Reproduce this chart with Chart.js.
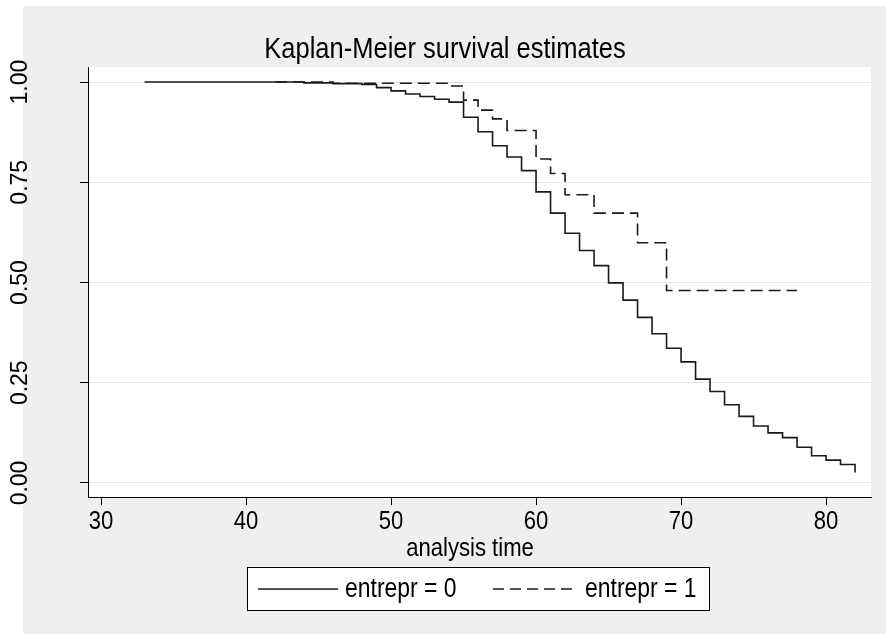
<!DOCTYPE html>
<html>
<head>
<meta charset="utf-8">
<title>Kaplan-Meier survival estimates</title>
<script src="https://cdn.jsdelivr.net/npm/chart.js@4/dist/chart.umd.min.js"></script>
<style>
  html, body { margin: 0; padding: 0; background: #fff; }
  canvas { display: block; }
</style>
</head>
<body>
<canvas id="km" width="886" height="634"></canvas>
<script>
// survival steps, group entrepr = 0
const timesEntrepr0 = [33, 44, 46, 48, 49, 50, 51, 52, 53, 54, 55, 56, 57, 58, 59, 60, 61, 62, 63, 64, 65, 66, 67, 68, 69, 70, 71, 72, 73, 74, 75, 76, 77, 78, 79, 80, 81, 82];
const survEntrepr0 = [1.000, 0.998, 0.996, 0.994, 0.986, 0.978, 0.970, 0.964, 0.957, 0.950, 0.912, 0.876, 0.841, 0.813, 0.779, 0.726, 0.673, 0.623, 0.580, 0.542, 0.499, 0.456, 0.413, 0.372, 0.336, 0.302, 0.259, 0.228, 0.195, 0.166, 0.142, 0.125, 0.113, 0.089, 0.068, 0.057, 0.046, 0.026];

// survival steps, group entrepr = 1
const timesEntrepr1 = [42, 46, 54, 55, 56, 57, 58, 60, 61, 62, 64, 67, 69, 78];
const survEntrepr1 = [1.000, 0.997, 0.990, 0.955, 0.930, 0.908, 0.879, 0.808, 0.772, 0.719, 0.673, 0.599, 0.480, 0.480];

const xTicks = [30, 40, 50, 60, 70, 80];
const yTicks = [0, 0.25, 0.5, 0.75, 1];
const yTickLabels = ['0.00', '0.25', '0.50', '0.75', '1.00'];

const seriesLabels = ['entrepr = 0', 'entrepr = 1'];
const chartTitle = 'Kaplan-Meier survival estimates';
const xTitle = 'analysis time';

const FONT = "'Liberation Sans', Arial, sans-serif";
const LINE = '#1a1a1a';
const SQUEEZE = 0.85; // condensed look of the graph text

const toPoints = (xs, ys) => xs.map((x, i) => ({ x, y: ys[i] }));

// horizontally condensed text
function narrowText(ctx, text, x, y, size, align) {
  ctx.save();
  ctx.font = size + 'px ' + FONT;
  ctx.textAlign = align || 'center';
  ctx.translate(x, y);
  ctx.scale(SQUEEZE, 1);
  ctx.fillText(text, 0, 0);
  ctx.restore();
}

// grey graph region, white plot region, texts and the legend box
const stataFrame = {
  id: 'stataFrame',
  beforeDraw(chart) {
    const { ctx, chartArea: a } = chart;
    ctx.save();
    ctx.fillStyle = '#efefef';
    ctx.fillRect(23, 6, chart.width - 23, chart.height - 6);
    ctx.fillStyle = '#ffffff';
    ctx.fillRect(a.left, a.top, a.right - a.left, a.bottom - a.top);
    ctx.restore();
  },
  afterDraw(chart) {
    const { ctx } = chart;
    const x = chart.scales.x;
    const y = chart.scales.y;
    ctx.save();
    ctx.fillStyle = '#000';
    ctx.textBaseline = 'alphabetic';
    narrowText(ctx, chartTitle, 445, 58, 30);
    narrowText(ctx, xTitle, 470, 556, 26);

    ctx.textBaseline = 'middle';
    xTicks.forEach(v => narrowText(ctx, String(v), x.getPixelForValue(v), 522, 26));

    ctx.font = '23px ' + FONT;
    ctx.textAlign = 'center';
    yTicks.forEach((v, i) => {
      ctx.save();
      ctx.translate(21, y.getPixelForValue(v));
      ctx.rotate(-Math.PI / 2);
      ctx.fillText(yTickLabels[i], 0, 0);
      ctx.restore();
    });

    // legend
    ctx.fillStyle = '#fff';
    ctx.fillRect(247, 567, 462, 43);
    ctx.strokeStyle = '#000';
    ctx.lineWidth = 1;
    ctx.strokeRect(247.5, 567.5, 462, 43);

    ctx.strokeStyle = LINE;
    ctx.lineWidth = 1.6;
    ctx.beginPath();
    ctx.moveTo(258, 589);
    ctx.lineTo(338, 589);
    ctx.stroke();
    ctx.setLineDash([11, 6]);
    ctx.beginPath();
    ctx.moveTo(493, 589);
    ctx.lineTo(576, 589);
    ctx.stroke();
    ctx.setLineDash([]);

    ctx.fillStyle = '#000';
    ctx.textBaseline = 'middle';
    narrowText(ctx, seriesLabels[0], 345, 590, 27, 'left');
    narrowText(ctx, seriesLabels[1], 585, 590, 27, 'left');
    ctx.restore();
  }
};

new Chart(document.getElementById('km'), {
  type: 'line',
  data: {
    datasets: [
      {
        label: seriesLabels[0],
        data: toPoints(timesEntrepr0, survEntrepr0),
        stepped: 'before',
        borderColor: LINE,
        borderWidth: 1.6,
        pointRadius: 0,
        fill: false
      },
      {
        label: seriesLabels[1],
        data: toPoints(timesEntrepr1, survEntrepr1),
        stepped: 'before',
        borderColor: LINE,
        borderWidth: 1.6,
        borderDash: [12, 6],
        pointRadius: 0,
        fill: false
      }
    ]
  },
  options: {
    responsive: false,
    animation: false,
    devicePixelRatio: 1,
    layout: { padding: { top: 67, right: 15, bottom: 0, left: 0 } },
    plugins: {
      legend: { display: false },
      title: { display: false },
      tooltip: { enabled: false }
    },
    scales: {
      x: {
        type: 'linear',
        min: 29.1,
        max: 83.1,
        afterBuildTicks: s => { s.ticks = xTicks.map(v => ({ value: v })); },
        afterFit: s => { s.height = 137; },
        border: { color: '#000', width: 1 },
        grid: { drawOnChartArea: false, tickLength: 8, tickColor: '#000' },
        ticks: { display: false }
      },
      y: {
        type: 'linear',
        min: -0.035,
        max: 1.0375,
        afterBuildTicks: s => { s.ticks = yTicks.map(v => ({ value: v })); },
        afterFit: s => { s.width = 88; },
        border: { color: '#000', width: 1 },
        grid: { color: '#e6e6e6', tickLength: 8, tickColor: '#000' },
        ticks: { display: false }
      }
    }
  },
  plugins: [stataFrame]
});
</script>
</body>
</html>
